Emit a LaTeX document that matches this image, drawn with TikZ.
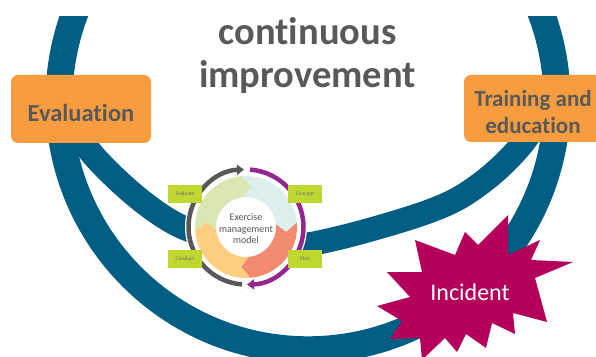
\documentclass[tikz,border=0pt]{standalone}
\usepackage{fontspec}
\setmainfont{Carlito}[Ligatures=NoCommon]
\usetikzlibrary{arrows.meta}

\definecolor{loopblue}{HTML}{005E85}
\definecolor{boxorange}{HTML}{F79C3F}
\definecolor{inkgrey}{HTML}{595959}
\definecolor{burstred}{HTML}{B4005B}
\definecolor{tablime}{HTML}{BFD730}
\definecolor{cyclepurple}{HTML}{93278F}
\definecolor{cyclegrey}{HTML}{58585A}
\definecolor{segA}{HTML}{D9E7B3}
\definecolor{segB}{HTML}{DCEEEE}
\definecolor{segC}{HTML}{F28A72}
\definecolor{segD}{HTML}{FDCD80}

\begin{document}
\begin{tikzpicture}[x=1pt,y=1pt,
  loop/.style={draw=loopblue},
  obox/.style={fill=boxorange, rounded corners=7pt, inner sep=0pt},
  boxtext/.style={text=inkgrey, font=\bfseries, align=center, inner sep=0pt},
  titletext/.style={text=inkgrey, font=\fontsize{38.5}{40}\selectfont\bfseries, inner sep=0pt, anchor=base},
  tab/.style={fill=tablime, minimum width=34pt, minimum height=18pt, inner sep=0pt,
              text=inkgrey!85, font=\fontsize{5.5}{6}\selectfont},
  cyclearrow/.style={line width=4.5pt, -{Triangle[length=7pt,width=10pt]}},
  modeltext/.style={text=inkgrey!95!black, align=center, inner sep=0pt,
                    font=\fontsize{10}{11.5}\selectfont},
  burst/.style={fill=burstred},
  bursttext/.style={text=white, font=\fontsize{24}{26}\selectfont, inner sep=0pt}]

\useasboundingbox (0,0) rectangle (596,356);
\clip (0,0) rectangle (596,356);

% large outer loop
\begin{scope}
  \clip (0,0) rectangle (596,339);
  \draw[loop, line width=27pt] (308,255.2) circle[radius=249];
\end{scope}

% inner loop
\draw[loop, line width=24pt] plot[smooth, tension=0.6] coordinates
  {(70,256) (93,201) (182,129) (285,113) (330,116) (430,145) (480,172) (523,213) (548,256)};

% title
\node[titletext] (title1) at (307.5,311) {continuous};
\node[titletext] (title2) at (307.5,268) {improvement};

% orange boxes
\node[obox, minimum width=140pt, minimum height=68pt] (evalbox) at (81,247) {};
\node[boxtext, font=\fontsize{24.5}{26}\selectfont\bfseries] (evaltext) at (81,243) {Evaluation};
\node[obox, minimum width=146pt, minimum height=67pt] (trainbox) at (537,247.5) {};
\node[boxtext, font=\fontsize{23}{27}\selectfont\bfseries] (traintext) at (533,243.5) {Training and\\education};

% exercise management model: four chevron segments turning clockwise
\begin{scope}[shift={(246,129)}]
  \fill[white] (0,0) circle[radius=61];
  \foreach \s/\c in {95/segB, 5/segC, -85/segD, -175/segA} {
    \fill[\c] (\s:51pt) arc[start angle=\s, end angle=\s-90, radius=51pt]
      -- ({\s-102}:40.5pt) -- ({\s-90}:30pt)
      arc[start angle=\s-90, end angle=\s, radius=30pt]
      -- ({\s-12}:40.5pt) -- cycle;
  }
  \draw[cyclearrow, cyclegrey] (266:57.5pt) arc[start angle=266, end angle=92, radius=57.5pt];
  \draw[cyclearrow, cyclepurple] (86:57.5pt) arc[start angle=86, end angle=-89, radius=57.5pt];
  \node[modeltext] (model) at (0,-2) {Exercise\\management\\model};
\end{scope}

\node[tab] (evaluate) at (185,162) {Evaluate};
\node[tab] (concept) at (305,162) {Concept};
\node[tab] (conduct) at (185,97) {Conduct};
\node[tab] (plan) at (305,97) {Plan};

% incident burst
\fill[burst] (508,141) -- (508,101) -- (540,116) -- (531,96) -- (573,94) -- (535,78)
  -- (547,34) -- (513,43) -- (515,22) -- (492,33) -- (486,8) -- (466,22) -- (457,4)
  -- (445,18) -- (422,-4) -- (420,18) -- (390,17) -- (402,35) -- (377,50) -- (410,59)
  -- (387,84) -- (422,84) -- (415,116) -- (455,101) -- (465,124) -- (478,111) -- cycle;
\node[bursttext] (incident) at (470,64) {Incident};

\end{tikzpicture}
\end{document}
